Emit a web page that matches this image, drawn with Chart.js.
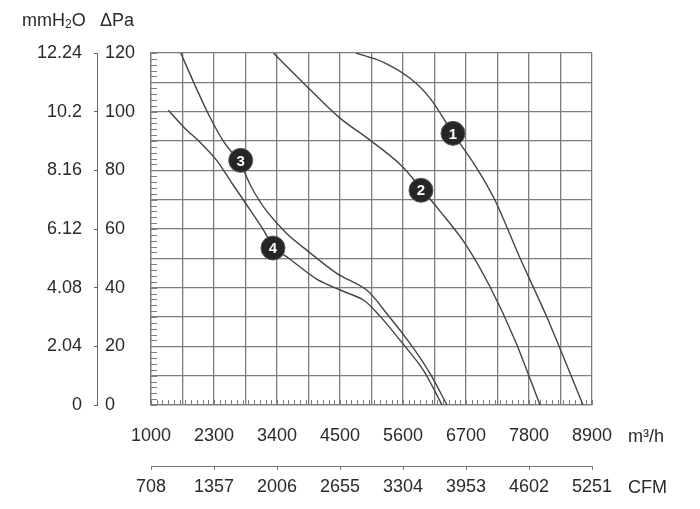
<!DOCTYPE html>
<html>
<head>
<meta charset="utf-8">
<title>Fan curves</title>
<script src="https://cdn.jsdelivr.net/npm/chart.js@4.4.1/dist/chart.umd.min.js"></script>
<style>
  html, body { margin: 0; padding: 0; background: #fff; }
</style>
</head>
<body>
<canvas id="chart" width="700" height="509"></canvas>
<script>
// airflow axis (m3/h) - first label is printed as 1000 on the sheet
const flowTicks = [1200, 2300, 3400, 4500, 5600, 6700, 7800, 8900];
const flowLabels = ["1000", "2300", "3400", "4500", "5600", "6700", "7800", "8900"];
const cfmLabels = ["708", "1357", "2006", "2655", "3304", "3953", "4602", "5251"];

// pressure axes
const paTicks = [0, 20, 40, 60, 80, 100, 120];
const mmTicks = [0, 2.04, 4.08, 6.12, 8.16, 10.2, 12.24];
const mmLabels = ["0", "2.04", "4.08", "6.12", "8.16", "10.2", "12.24"];

// curve 1
const flow1 = [4779, 5251, 5722, 6071, 6473, 6857, 7206, 7643, 8109, 8516, 8743];
const pa1 = [120, 116.9, 111.4, 104.6, 92.6, 81.7, 69.8, 50.1, 30.1, 10.9, 0];
// curve 2
const flow2 = [3335, 3918, 4500, 5024, 5548, 5914, 6246, 6682, 7119, 7555, 7992];
const pa2 = [120, 108.7, 97.8, 90.3, 82.1, 73.9, 66.1, 55.1, 40.3, 22.1, 0];
// curve 3
const flow3 = [1719, 1968, 2230, 2475, 2754, 2963, 3220, 3569, 3918, 4442, 4966, 5315, 5722, 6071, 6368];
const pa3 = [120, 109, 98.1, 89.6, 82.4, 73.9, 66.1, 58.5, 52.8, 44.9, 39.2, 31.2, 21, 10.8, 0];
// curve 4
const flow4 = [1502, 1794, 2056, 2347, 2614, 2876, 3156, 3348, 3627, 4093, 4500, 4907, 5198, 5548, 5954, 6281];
const pa4 = [100.5, 94.3, 89.6, 83.4, 75.6, 68.1, 59.9, 53.8, 49.7, 42.9, 39.2, 35.8, 30.3, 22.1, 11.9, 0];

// numbered markers on the curves
const badgeNames = ["1", "2", "3", "4"];
const badgeFlow = [6473, 5914, 2766, 3330];
const badgePa = [92.6, 73.2, 83.4, 53.5];

const FONT = "'Liberation Sans', Arial, Helvetica, sans-serif";
const TXT = "#2a2a2a";
const GRID = "#7c7c7c";
const FLOW_MIN = 1200, FLOW_MAX = 8900, FLOW_GRID = 550;

const toPts = (xs, ys) => xs.map((x, i) => ({ x: x, y: ys[i] }));

const curve = (xs, ys) => ({
  type: "line",
  data: toPts(xs, ys),
  borderColor: "#444",
  borderWidth: 1.4,
  pointRadius: 0,
  tension: 0.3,
  fill: false,
  order: 2
});

const extras = {
  id: "extras",
  beforeDatasetsDraw(chart) {
    // small inner ticks along left and bottom edges
    const { ctx, chartArea: a, scales } = chart;
    ctx.save();
    ctx.strokeStyle = GRID;
    ctx.lineWidth = 1;
    ctx.beginPath();
    for (let v = FLOW_MIN; v <= FLOW_MAX; v += 100) {
      const px = Math.round(scales.x.getPixelForValue(v)) + 0.5;
      ctx.moveTo(px, a.bottom);
      ctx.lineTo(px, a.bottom - 5);
    }
    for (let v = 0; v <= 120; v += 2) {
      const py = Math.round(scales.y.getPixelForValue(v)) + 0.5;
      ctx.moveTo(a.left, py);
      ctx.lineTo(a.left + 6, py);
    }
    ctx.stroke();
    ctx.restore();
  },
  afterDatasetsDraw(chart) {
    const { ctx } = chart;
    const meta = chart.getDatasetMeta(4);
    ctx.save();
    ctx.fillStyle = "#fff";
    ctx.font = "bold 15px " + FONT;
    ctx.textAlign = "center";
    ctx.textBaseline = "middle";
    meta.data.forEach((pt, i) => ctx.fillText(badgeNames[i], pt.x, pt.y + 1));
    ctx.restore();
  },
  afterDraw(chart) {
    const { ctx } = chart;
    ctx.save();
    ctx.fillStyle = TXT;
    ctx.textBaseline = "middle";
    ctx.font = "18px " + FONT;
    // header: mmH2O  ΔPa
    let x = 22;
    ctx.fillText("mmH", x, 21);
    x += ctx.measureText("mmH").width;
    ctx.font = "12px " + FONT;
    ctx.fillText("2", x, 25);
    x += ctx.measureText("2").width;
    ctx.font = "18px " + FONT;
    ctx.fillText("O", x, 21);
    ctx.fillText("ΔPa", 100, 21);
    // units
    ctx.fillText("m³/h", 628, 437);
    ctx.fillText("CFM", 628, 488);
    ctx.restore();
  }
};

new Chart(document.getElementById("chart"), {
  type: "scatter",
  data: {
    datasets: [
      curve(flow1, pa1),
      curve(flow2, pa2),
      curve(flow3, pa3),
      curve(flow4, pa4),
      {
        type: "scatter",
        data: toPts(badgeFlow, badgePa),
        pointRadius: 12,
        pointBackgroundColor: "#262626",
        pointBorderColor: "#5a5a5a",
        pointBorderWidth: 1,
        order: 1
      }
    ]
  },
  options: {
    responsive: false,
    animation: false,
    layout: { padding: { left: 0, right: 108, top: 53, bottom: 0 } },
    plugins: { legend: { display: false }, tooltip: { enabled: false } },
    scales: {
      x: {
        type: "linear",
        position: "bottom",
        min: FLOW_MIN,
        max: FLOW_MAX,
        afterBuildTicks: s => {
          const t = [];
          for (let v = FLOW_MIN; v <= FLOW_MAX; v += FLOW_GRID) t.push({ value: v });
          s.ticks = t;
        },
        afterFit: s => { s.height = 61; },
        grid: { color: GRID, lineWidth: 1.3, drawTicks: false },
        border: { display: true, color: GRID, width: 1.3 },
        ticks: {
          padding: 20,
          autoSkip: false,
          maxRotation: 0,
          color: TXT,
          font: { family: FONT, size: 18 },
          callback: v => {
            const i = flowTicks.indexOf(v);
            return i < 0 ? "" : flowLabels[i];
          }
        }
      },
      cfm: {
        type: "linear",
        position: "bottom",
        weight: 1,
        min: FLOW_MIN,
        max: FLOW_MAX,
        afterBuildTicks: s => { s.ticks = flowTicks.map(v => ({ value: v })); },
        afterFit: s => { s.height = 43; },
        grid: { drawOnChartArea: false, tickLength: 4, color: "#777" },
        border: { display: true, color: "#777" },
        ticks: {
          padding: 6,
          autoSkip: false,
          maxRotation: 0,
          color: TXT,
          font: { family: FONT, size: 18 },
          callback: (v, i) => cfmLabels[i]
        }
      },
      y: {
        type: "linear",
        position: "left",
        min: 0,
        max: 120,
        afterBuildTicks: s => {
          const t = [];
          for (let v = 0; v <= 120; v += 10) t.push({ value: v });
          s.ticks = t;
        },
        afterFit: s => { s.width = 46; },
        grid: { color: GRID, lineWidth: 1.3, drawTicks: false },
        border: { display: true, color: GRID, width: 1.3 },
        ticks: {
          crossAlign: "far",
          autoSkip: false,
          color: TXT,
          font: { family: FONT, size: 18 },
          callback: v => (paTicks.includes(v) ? String(v) : "")
        }
      },
      gap: {
        type: "linear",
        position: "left",
        weight: 1,
        grid: { display: false },
        border: { display: false },
        ticks: { display: false },
        afterFit: s => { s.width = 8; }
      },
      mm: {
        type: "linear",
        position: "left",
        weight: 2,
        min: 0,
        max: 12.24,
        afterBuildTicks: s => { s.ticks = mmTicks.map(v => ({ value: v })); },
        afterFit: s => { s.width = 97; },
        grid: { drawOnChartArea: false, tickLength: 3, color: "#666" },
        border: { display: true, color: "#666" },
        ticks: {
          padding: 12,
          autoSkip: false,
          color: TXT,
          font: { family: FONT, size: 18 },
          callback: (v, i) => mmLabels[i]
        }
      }
    }
  },
  plugins: [extras]
});
</script>
</body>
</html>
